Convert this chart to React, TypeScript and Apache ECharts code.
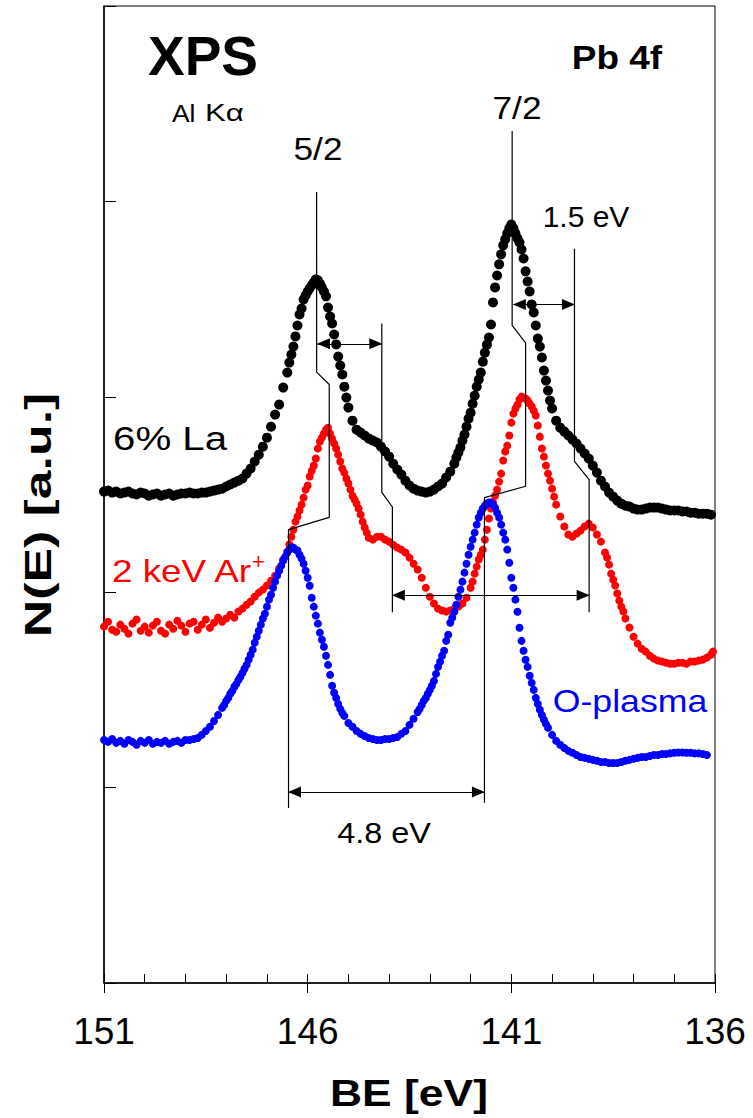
import React, { useEffect, useRef } from "react";
import * as echarts from "echarts";

// Binding energy axis (eV), reversed
const BE_MIN = 136;
const BE_MAX = 151;
const BE_LABEL_STEP = 5;
// Intensity axis (arbitrary units)
const N_MIN = 0;
const N_MAX = 5;

// 6% La  (BE eV, N(E) a.u.)
const laPoints: [number, number][] = [
  [151.0, 2.515], [150.9, 2.52], [150.8, 2.51], [150.7, 2.515], [150.6, 2.505], [150.5, 2.51], [150.4, 2.515], [150.3, 2.505],
  [150.2, 2.5], [150.1, 2.51], [150.0, 2.505], [149.9, 2.494], [149.8, 2.5], [149.7, 2.505], [149.6, 2.494], [149.5, 2.5],
  [149.4, 2.505], [149.3, 2.494], [149.2, 2.5], [149.1, 2.505], [149.0, 2.505], [148.9, 2.51], [148.8, 2.505], [148.7, 2.505],
  [148.6, 2.51], [148.5, 2.51], [148.4, 2.515], [148.3, 2.52], [148.2, 2.525], [148.1, 2.53], [148.0, 2.541], [147.9, 2.551],
  [147.8, 2.561], [147.7, 2.571], [147.6, 2.582], [147.5, 2.607], [147.4, 2.633], [147.3, 2.669], [147.2, 2.704], [147.1, 2.745],
  [147.0, 2.791], [146.9, 2.847], [146.8, 2.909], [146.7, 2.96], [146.6, 3.047], [146.5, 3.124], [146.45, 3.175], [146.4, 3.216],
  [146.35, 3.257], [146.3, 3.309], [146.25, 3.365], [146.2, 3.421], [146.15, 3.452], [146.1, 3.498], [146.05, 3.519], [146.0, 3.539],
  [145.95, 3.555], [145.9, 3.57], [145.85, 3.585], [145.8, 3.601], [145.75, 3.596], [145.7, 3.58], [145.65, 3.56], [145.6, 3.539],
  [145.55, 3.514], [145.5, 3.457], [145.45, 3.411], [145.4, 3.375], [145.35, 3.319], [145.3, 3.268], [145.25, 3.206], [145.2, 3.16],
  [145.15, 3.114], [145.1, 3.052], [145.05, 2.996], [145.0, 2.945], [144.9, 2.878], [144.8, 2.832], [144.7, 2.817], [144.6, 2.802],
  [144.5, 2.786], [144.4, 2.776], [144.3, 2.766], [144.2, 2.745], [144.1, 2.72], [144.0, 2.694], [143.9, 2.658], [143.8, 2.628],
  [143.7, 2.602], [143.6, 2.571], [143.5, 2.546], [143.4, 2.53], [143.3, 2.52], [143.2, 2.515], [143.1, 2.51], [143.0, 2.515],
  [142.9, 2.525], [142.8, 2.541], [142.7, 2.556], [142.6, 2.587], [142.5, 2.617], [142.4, 2.658], [142.35, 2.689], [142.3, 2.715],
  [142.25, 2.74], [142.2, 2.776], [142.15, 2.807], [142.1, 2.847], [142.05, 2.888], [142.0, 2.919], [141.95, 2.965], [141.9, 3.006],
  [141.85, 3.052], [141.8, 3.088], [141.75, 3.124], [141.7, 3.18], [141.65, 3.226], [141.6, 3.267], [141.55, 3.303], [141.5, 3.37],
  [141.45, 3.483], [141.4, 3.56], [141.35, 3.621], [141.3, 3.678], [141.25, 3.729], [141.2, 3.775], [141.15, 3.806], [141.1, 3.836],
  [141.05, 3.862], [141.0, 3.882], [140.95, 3.862], [140.9, 3.836], [140.85, 3.811], [140.8, 3.79], [140.75, 3.754], [140.7, 3.708],
  [140.65, 3.642], [140.6, 3.59], [140.55, 3.539], [140.5, 3.473], [140.45, 3.432], [140.4, 3.365], [140.35, 3.298], [140.3, 3.257],
  [140.25, 3.201], [140.2, 3.134], [140.15, 3.083], [140.1, 3.032], [140.05, 2.981], [140.0, 2.94], [139.9, 2.878], [139.8, 2.842],
  [139.7, 2.822], [139.6, 2.802], [139.5, 2.781], [139.4, 2.761], [139.3, 2.735], [139.2, 2.71], [139.1, 2.684], [139.0, 2.648],
  [138.9, 2.612], [138.8, 2.571], [138.7, 2.541], [138.6, 2.51], [138.5, 2.489], [138.4, 2.469], [138.3, 2.453], [138.2, 2.443],
  [138.1, 2.438], [138.0, 2.428], [137.9, 2.423], [137.8, 2.423], [137.7, 2.428], [137.6, 2.433], [137.5, 2.433], [137.4, 2.433],
  [137.3, 2.428], [137.2, 2.423], [137.1, 2.418], [137.0, 2.418], [136.9, 2.418], [136.8, 2.413], [136.7, 2.413], [136.6, 2.407],
  [136.5, 2.407], [136.4, 2.402], [136.3, 2.402], [136.2, 2.402], [136.1, 2.397],
];

// 2 keV Ar+
const arPoints: [number, number][] = [
  [151.0, 1.824], [150.9, 1.849], [150.8, 1.808], [150.7, 1.798], [150.6, 1.834], [150.5, 1.813], [150.4, 1.788], [150.3, 1.839],
  [150.2, 1.86], [150.1, 1.803], [150.0, 1.824], [149.9, 1.793], [149.8, 1.829], [149.7, 1.849], [149.6, 1.803], [149.5, 1.788],
  [149.4, 1.834], [149.3, 1.813], [149.2, 1.854], [149.1, 1.829], [149.0, 1.798], [148.9, 1.839], [148.8, 1.849], [148.7, 1.808],
  [148.6, 1.834], [148.5, 1.86], [148.4, 1.818], [148.3, 1.844], [148.2, 1.87], [148.1, 1.849], [148.0, 1.865], [147.9, 1.885],
  [147.8, 1.87], [147.7, 1.901], [147.6, 1.916], [147.5, 1.936], [147.4, 1.952], [147.3, 1.977], [147.2, 1.998], [147.1, 2.013],
  [147.0, 2.034], [146.9, 2.059], [146.8, 2.085], [146.7, 2.121], [146.6, 2.167], [146.5, 2.208], [146.45, 2.244], [146.4, 2.284],
  [146.35, 2.32], [146.3, 2.361], [146.25, 2.387], [146.2, 2.418], [146.15, 2.448], [146.1, 2.484], [146.05, 2.525], [146.0, 2.546],
  [145.95, 2.592], [145.9, 2.622], [145.85, 2.648], [145.8, 2.684], [145.75, 2.735], [145.7, 2.771], [145.65, 2.792], [145.6, 2.812],
  [145.55, 2.832], [145.5, 2.842], [145.45, 2.812], [145.4, 2.786], [145.35, 2.761], [145.3, 2.735], [145.25, 2.704], [145.2, 2.669],
  [145.15, 2.633], [145.1, 2.612], [145.05, 2.582], [145.0, 2.556], [144.95, 2.525], [144.9, 2.494], [144.85, 2.474], [144.8, 2.454],
  [144.75, 2.428], [144.7, 2.397], [144.65, 2.361], [144.6, 2.331], [144.55, 2.305], [144.5, 2.279], [144.4, 2.269], [144.3, 2.284],
  [144.2, 2.284], [144.1, 2.269], [144.0, 2.259], [143.9, 2.243], [143.8, 2.228], [143.7, 2.218], [143.6, 2.203], [143.5, 2.177],
  [143.4, 2.146], [143.3, 2.116], [143.2, 2.074], [143.1, 2.023], [143.0, 1.977], [142.9, 1.942], [142.8, 1.916], [142.7, 1.906],
  [142.6, 1.901], [142.5, 1.906], [142.4, 1.916], [142.3, 1.926], [142.2, 1.942], [142.1, 1.972], [142.0, 2.023], [141.95, 2.054],
  [141.9, 2.095], [141.85, 2.131], [141.8, 2.167], [141.75, 2.192], [141.7, 2.218], [141.65, 2.269], [141.6, 2.32], [141.55, 2.377],
  [141.5, 2.428], [141.45, 2.459], [141.4, 2.494], [141.35, 2.525], [141.3, 2.566], [141.25, 2.607], [141.2, 2.674], [141.15, 2.72],
  [141.1, 2.75], [141.05, 2.802], [141.0, 2.868], [140.95, 2.914], [140.9, 2.94], [140.85, 2.96], [140.8, 2.986], [140.75, 3.001],
  [140.7, 2.996], [140.65, 2.991], [140.6, 2.981], [140.55, 2.965], [140.5, 2.95], [140.45, 2.929], [140.4, 2.904], [140.35, 2.853],
  [140.3, 2.796], [140.25, 2.735], [140.2, 2.694], [140.15, 2.648], [140.1, 2.607], [140.05, 2.571], [140.0, 2.53], [139.95, 2.489],
  [139.9, 2.448], [139.8, 2.387], [139.7, 2.336], [139.6, 2.295], [139.5, 2.284], [139.4, 2.3], [139.3, 2.315], [139.2, 2.336],
  [139.1, 2.351], [139.0, 2.331], [138.9, 2.295], [138.8, 2.259], [138.7, 2.203], [138.65, 2.177], [138.6, 2.141], [138.55, 2.095],
  [138.5, 2.064], [138.45, 2.034], [138.4, 1.993], [138.35, 1.957], [138.3, 1.926], [138.25, 1.901], [138.2, 1.865], [138.1, 1.819],
  [138.0, 1.772], [137.9, 1.737], [137.8, 1.711], [137.7, 1.696], [137.6, 1.675], [137.5, 1.66], [137.4, 1.65], [137.3, 1.645],
  [137.2, 1.639], [137.1, 1.634], [137.0, 1.634], [136.9, 1.639], [136.8, 1.639], [136.7, 1.634], [136.6, 1.645], [136.5, 1.645],
  [136.4, 1.65], [136.3, 1.655], [136.2, 1.665], [136.1, 1.68], [136.05, 1.696],
];

// O-plasma
const oPoints: [number, number][] = [
  [151.0, 1.244], [150.9, 1.234], [150.8, 1.249], [150.7, 1.229], [150.6, 1.239], [150.5, 1.224], [150.4, 1.244], [150.3, 1.234],
  [150.2, 1.219], [150.1, 1.239], [150.0, 1.229], [149.9, 1.244], [149.8, 1.224], [149.7, 1.234], [149.6, 1.229], [149.5, 1.239],
  [149.4, 1.224], [149.3, 1.234], [149.2, 1.239], [149.1, 1.229], [149.0, 1.244], [148.9, 1.244], [148.8, 1.249], [148.7, 1.254],
  [148.6, 1.27], [148.5, 1.29], [148.4, 1.311], [148.3, 1.341], [148.2, 1.372], [148.1, 1.408], [148.05, 1.423], [148.0, 1.444],
  [147.95, 1.459], [147.9, 1.48], [147.85, 1.495], [147.8, 1.516], [147.75, 1.531], [147.7, 1.551], [147.65, 1.567], [147.6, 1.587],
  [147.55, 1.608], [147.5, 1.628], [147.45, 1.654], [147.4, 1.68], [147.35, 1.706], [147.3, 1.741], [147.25, 1.772], [147.2, 1.803],
  [147.15, 1.834], [147.1, 1.865], [147.05, 1.89], [147.0, 1.926], [146.95, 1.962], [146.9, 1.987], [146.85, 2.023], [146.8, 2.054],
  [146.75, 2.085], [146.7, 2.11], [146.65, 2.136], [146.6, 2.162], [146.55, 2.182], [146.5, 2.203], [146.45, 2.218], [146.4, 2.228],
  [146.35, 2.228], [146.3, 2.218], [146.25, 2.213], [146.2, 2.192], [146.15, 2.172], [146.1, 2.146], [146.05, 2.11], [146.0, 2.074],
  [145.95, 2.033], [145.9, 1.972], [145.85, 1.926], [145.8, 1.88], [145.75, 1.839], [145.7, 1.793], [145.65, 1.757], [145.6, 1.721],
  [145.55, 1.675], [145.5, 1.628], [145.45, 1.577], [145.4, 1.521], [145.35, 1.485], [145.3, 1.459], [145.25, 1.428], [145.2, 1.403],
  [145.15, 1.382], [145.1, 1.367], [145.0, 1.331], [144.9, 1.311], [144.8, 1.29], [144.7, 1.275], [144.6, 1.264], [144.5, 1.254],
  [144.4, 1.249], [144.3, 1.244], [144.2, 1.244], [144.1, 1.249], [144.0, 1.249], [143.9, 1.254], [143.8, 1.259], [143.7, 1.275],
  [143.6, 1.29], [143.5, 1.321], [143.4, 1.352], [143.3, 1.387], [143.25, 1.403], [143.2, 1.423], [143.15, 1.444], [143.1, 1.459],
  [143.05, 1.48], [143.0, 1.5], [142.95, 1.521], [142.9, 1.546], [142.85, 1.582], [142.8, 1.618], [142.75, 1.644], [142.7, 1.675],
  [142.65, 1.7], [142.6, 1.751], [142.55, 1.782], [142.5, 1.844], [142.45, 1.87], [142.4, 1.9], [142.35, 1.936], [142.3, 1.977],
  [142.25, 2.013], [142.2, 2.054], [142.15, 2.1], [142.1, 2.146], [142.05, 2.192], [142.0, 2.233], [141.95, 2.269], [141.9, 2.305],
  [141.85, 2.346], [141.8, 2.382], [141.75, 2.407], [141.7, 2.428], [141.65, 2.443], [141.6, 2.454], [141.55, 2.459], [141.5, 2.459],
  [141.45, 2.448], [141.4, 2.433], [141.35, 2.407], [141.3, 2.382], [141.25, 2.346], [141.2, 2.305], [141.15, 2.269], [141.1, 2.218],
  [141.05, 2.151], [141.0, 2.074], [140.95, 2.023], [140.9, 1.962], [140.85, 1.9], [140.8, 1.818], [140.75, 1.751], [140.7, 1.7],
  [140.65, 1.654], [140.6, 1.618], [140.55, 1.572], [140.5, 1.536], [140.45, 1.5], [140.4, 1.459], [140.35, 1.428], [140.3, 1.398],
  [140.25, 1.372], [140.2, 1.347], [140.15, 1.326], [140.1, 1.306], [140.0, 1.27], [139.9, 1.239], [139.8, 1.219], [139.7, 1.203],
  [139.6, 1.188], [139.5, 1.178], [139.4, 1.167], [139.3, 1.157], [139.2, 1.152], [139.1, 1.147], [139.0, 1.142], [138.9, 1.137],
  [138.8, 1.131], [138.7, 1.131], [138.6, 1.126], [138.5, 1.126], [138.4, 1.126], [138.3, 1.131], [138.2, 1.137], [138.1, 1.142],
  [138.0, 1.147], [137.9, 1.152], [137.8, 1.157], [137.7, 1.157], [137.6, 1.162], [137.5, 1.167], [137.4, 1.167], [137.3, 1.172],
  [137.2, 1.172], [137.1, 1.175], [137.0, 1.178], [136.9, 1.18], [136.8, 1.18], [136.7, 1.178], [136.6, 1.178], [136.5, 1.175],
  [136.4, 1.175], [136.3, 1.172], [136.2, 1.167],
];

// Peak-marker guide lines (BE eV, N(E))
const guide52: [number, number][] = [[145.78, 4.048], [145.78, 3.126], [145.47, 3.063], [145.47, 2.383], [146.47, 2.32], [146.47, 0.896]];
const guide72: [number, number][] = [[140.98, 4.36], [140.98, 3.366], [140.65, 3.276], [140.65, 2.542], [141.66, 2.484], [141.66, 0.922]];
const guide52b: [number, number][] = [[144.18, 3.375], [144.18, 2.511], [143.92, 2.436], [143.92, 1.897]];
const guide72b: [number, number][] = [[139.45, 3.758], [139.45, 2.67], [139.09, 2.576], [139.09, 1.897]];
// Double arrows: [from BE, to BE, level]
const arrows: [number, number, number][] = [
  [145.76, 144.18, 3.271],
  [140.95, 139.45, 3.472],
  [143.92, 139.09, 1.984],
  [146.47, 141.66, 0.978],
];

const FONT = "'Liberation Sans', Arial, Helvetica, sans-serif";

function txt(text: string, x: number, y: number, size: number, opts: any = {}) {
  return {
    type: "text",
    x,
    y,
    scaleX: opts.scaleX ?? 1,
    rotation: opts.rotation ?? 0,
    z: 100,
    silent: true,
    style: {
      text,
      fill: opts.color ?? "#000",
      fontSize: size,
      fontWeight: opts.bold ? "bold" : "normal",
      fontFamily: FONT,
      align: opts.align ?? "center",
      verticalAlign: "middle",
      textAlign: opts.align ?? "center",
      textVerticalAlign: "middle",
    },
  };
}

export default function App() {
  const ref = useRef<HTMLDivElement>(null);
  useEffect(() => {
    document.body.style.margin = "0";
    document.body.style.overflow = "hidden";
    const chart = echarts.init(ref.current!, null, { renderer: "svg" });
    const guideSeries = (data: [number, number][], extra: any = {}) => ({
      type: "line",
      data,
      symbol: "none",
      silent: true,
      z: 5,
      lineStyle: { color: "#000", width: 1.2 },
      animation: false,
      ...extra,
    });
    const scatter = (name: string, data: [number, number][], color: string, size: number, z: number) => ({
      name,
      type: "scatter",
      data,
      symbol: "circle",
      symbolSize: size,
      itemStyle: { color, opacity: 1 },
      silent: true,
      z,
    });
    chart.setOption({
      animation: false,
      backgroundColor: "#fff",
      grid: { left: 104, right: 38, top: 6, bottom: 135, show: true, borderColor: "#000", borderWidth: 1, backgroundColor: "transparent" },
      xAxis: [
        {
          type: "value",
          min: BE_MIN,
          max: BE_MAX,
          inverse: true,
          interval: 1,
          position: "bottom",
          axisLine: { show: true, lineStyle: { color: "#000", width: 1.5 } },
          axisTick: { show: true, inside: true, length: 9, lineStyle: { color: "#000", width: 1 } },
          axisLabel: { show: false },
          splitLine: { show: false },
        },
        {
          type: "value",
          min: BE_MIN,
          max: BE_MAX,
          inverse: true,
          interval: BE_LABEL_STEP,
          position: "bottom",
          axisLine: { show: false },
          axisTick: { show: true, inside: false, length: 10, lineStyle: { color: "#000", width: 1 } },
          axisLabel: { show: true, fontSize: 37, fontFamily: FONT, color: "#000", margin: 30 },
          splitLine: { show: false },
        },
      ],
      yAxis: {
        type: "value",
        min: N_MIN,
        max: N_MAX,
        interval: 1,
        axisLine: { show: true, lineStyle: { color: "#000", width: 1.5 } },
        axisTick: { show: true, inside: true, length: 12, lineStyle: { color: "#000", width: 1 } },
        axisLabel: { show: false },
        splitLine: { show: false },
      },
      graphic: [
        txt("XPS", 203, 56, 55, { bold: true }),
        txt("Al", 172, 113, 24, { align: "left", scaleX: 1.1 }),
        txt("Kα", 205, 113, 24, { align: "left", scaleX: 1.3 }),
        txt("Pb 4f", 617, 57, 33, { bold: true, scaleX: 1.12 }),
        txt("5/2", 318, 149, 32, { scaleX: 1.1 }),
        txt("7/2", 517, 108, 32, { scaleX: 1.1 }),
        txt("1.5 eV", 586, 216, 30),
        txt("4.8 eV", 384, 833, 30, { scaleX: 1.08 }),
        txt("6% La", 113, 439, 33, { align: "left", scaleX: 1.22 }),
        txt("2 keV Ar", 112, 571, 32, { align: "left", scaleX: 1.15, color: "#ff0000" }),
        txt("+", 252, 561, 22, { align: "left", color: "#ff0000" }),
        txt("O-plasma", 630, 701, 31, { scaleX: 1.15, color: "#0000ff" }),
        txt("BE [eV]", 409, 1093, 37, { bold: true, scaleX: 1.2 }),
        txt("N(E) [a.u.]", 38, 515, 37, { bold: true, scaleX: 1.4, rotation: Math.PI / 2 }),
      ],
      series: [
        scatter("6% La", laPoints, "#000000", 10, 2),
        scatter("2 keV Ar+", arPoints, "#ff0000", 8, 3),
        scatter("O-plasma", oPoints, "#0000ff", 8, 4),
        guideSeries(guide52, {
          markLine: {
            silent: true,
            symbol: ["triangle", "triangle"],
            symbolSize: [11, 13],
            symbolOffset: [[0, 6], [0, 6]],
            precision: 3,
            label: { show: false },
            lineStyle: { color: "#000", width: 1.2, type: "solid" },
            itemStyle: { color: "#000" },
            emphasis: { disabled: true },
            animation: false,
            data: arrows.map(([a, b, y]) => [{ coord: [a, y] }, { coord: [b, y] }]),
          },
        }),
        guideSeries(guide72),
        guideSeries(guide52b),
        guideSeries(guide72b),
      ],
    });
    return () => chart.dispose();
  }, []);
  return <div ref={ref} style={{ width: 753, height: 1118, position: "absolute", left: 0, top: 0 }} />;
}
